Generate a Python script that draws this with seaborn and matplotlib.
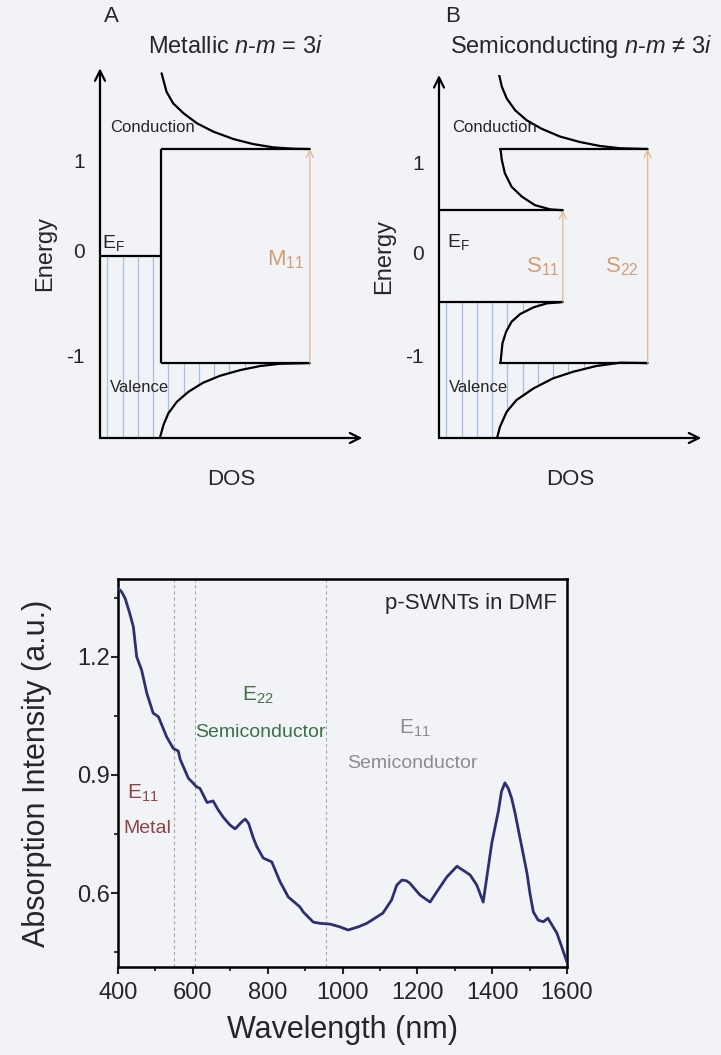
import numpy as np
import matplotlib
matplotlib.use("Agg")
import matplotlib.pyplot as plt
import seaborn as sns
import pandas as pd

# ---------------- data ----------------
# absorption spectrum (bottom panel)
wavelength_nm = [400, 410, 419, 430, 441, 450, 463, 477, 494, 508, 530, 548, 561, 566, 588,
                 610, 619, 638, 654, 668, 681, 699, 713, 731, 740, 749, 762, 771, 788, 811,
                 833, 855, 886, 895, 922, 940, 967, 993, 1015, 1042, 1065, 1108, 1131,
                 1145, 1159, 1171, 1180, 1207, 1234, 1252, 1279, 1306, 1341, 1359, 1376,
                 1399, 1417, 1425, 1434, 1443, 1452, 1461, 1493, 1501, 1510, 1523, 1537,
                 1549, 1573, 1586, 1600]
absorption = [1.375, 1.365, 1.349, 1.315, 1.277, 1.200, 1.167, 1.108, 1.057, 1.048, 0.997,
              0.967, 0.961, 0.940, 0.892, 0.870, 0.866, 0.830, 0.834, 0.811, 0.793, 0.773,
              0.763, 0.781, 0.788, 0.777, 0.739, 0.718, 0.689, 0.679, 0.629, 0.590, 0.565,
              0.552, 0.526, 0.523, 0.521, 0.514, 0.506, 0.514, 0.523, 0.549, 0.582, 0.620,
              0.633, 0.631, 0.625, 0.595, 0.577, 0.603, 0.641, 0.668, 0.646, 0.620, 0.577,
              0.727, 0.810, 0.858, 0.880, 0.866, 0.841, 0.804, 0.651, 0.599, 0.552, 0.531,
              0.527, 0.536, 0.498, 0.463, 0.424]
region_bounds_nm = [550, 605, 955]
x_ticks = [400, 600, 800, 1000, 1200, 1400, 1600]
y_ticks = [0.6, 0.9, 1.2]

# Panel A (metallic) schematic DOS curves: DOS (arb.), Energy
a_cond_dos = [1.01, 1.09, 1.20, 1.37, 1.59, 1.86, 2.19, 2.51, 2.84, 3.17, 3.44]
a_cond_energy = [1.878, 1.689, 1.569, 1.467, 1.364, 1.278, 1.202, 1.151, 1.117, 1.103, 1.10]
a_val_dos = [0.98, 1.04, 1.12, 1.26, 1.45, 1.69, 1.97, 2.30, 2.62, 2.95, 3.44]
a_val_energy = [-1.874, -1.737, -1.617, -1.498, -1.395, -1.302, -1.230, -1.172, -1.131, -1.107, -1.10]
a_vhs_level = 1.10
a_step_dos = 1.0
a_m11_dos = 3.44

# Panel B (semiconducting)
b_c2_dos = [0.98, 1.03, 1.11, 1.25, 1.44, 1.68, 1.98, 2.31, 2.64, 2.97, 3.42]
b_c2_energy = [1.878, 1.741, 1.620, 1.497, 1.394, 1.309, 1.229, 1.172, 1.131, 1.108, 1.10]
b_c1_dos = [1.00, 1.01, 1.03, 1.08, 1.19, 1.36, 1.57, 1.82, 2.03]
b_c1_energy = [1.10, 1.089, 0.986, 0.850, 0.712, 0.610, 0.524, 0.480, 0.47]
b_v1_dos = [1.00, 1.01, 1.04, 1.10, 1.19, 1.33, 1.55, 1.77, 1.98, 2.03]
b_v1_energy = [-1.10, -1.086, -0.897, -0.778, -0.675, -0.596, -0.527, -0.486, -0.476, -0.47]
b_v2_dos = [0.95, 1.00, 1.11, 1.27, 1.55, 1.87, 2.20, 2.58, 2.97, 3.42]
b_v2_energy = [-1.874, -1.754, -1.600, -1.480, -1.360, -1.257, -1.189, -1.130, -1.096, -1.10]
b_s11_level = 0.47
b_s22_level = 1.10
b_step_dos = 1.0
b_s11_dos = 2.03
b_s22_dos = 3.42

energy_ticks_labels = ["1", "0", "-1"]

# ---------------- style ----------------
sns.set_style("ticks")
BG = "#f2f3f7"
plt.rcParams["font.family"] = ["Liberation Sans", "DejaVu Sans"]
plt.rcParams["mathtext.fontset"] = "custom"
plt.rcParams["mathtext.rm"] = "Liberation Sans"
plt.rcParams["mathtext.it"] = "Liberation Sans:italic"
plt.rcParams["mathtext.bf"] = "Liberation Sans:bold"

W, H = 721, 1055
fig = plt.figure(figsize=(W / 100, H / 100), dpi=100, facecolor=BG)

HATCH = "#a3bfe0"
TAN = "#e2b892"
TANTXT = "#d19e74"
DOSU = 61.0     # px per DOS unit
EU = 97.3       # px per energy unit


def panel_axes(left_px, bottom_px, xmax, ymin, ymax):
    return fig.add_axes([left_px / W, (H - bottom_px) / H,
                         xmax * DOSU / W, (ymax - ymin) * EU / H])


def style_panel(ax, xmax, ymin, ymax, tickpos):
    ax.set_facecolor(BG)
    ax.set_xlim(0, xmax)
    ax.set_ylim(ymin, ymax)
    for s in ax.spines.values():
        s.set_visible(False)
    ax.set_xticks([])
    ax.set_yticks(tickpos)
    ax.set_yticklabels(energy_ticks_labels, fontsize=15)
    ax.tick_params(axis="y", length=0, pad=11)
    ax.set_ylabel("Energy", fontsize=17, labelpad=7)
    ax.set_xlabel("DOS", fontsize=16, labelpad=22)
    arrow = dict(arrowstyle="->", lw=1.6, color="black", shrinkA=0, shrinkB=0,
                 mutation_scale=18)
    ax.annotate("", xy=(0, ymax), xytext=(0, ymin), arrowprops=arrow, annotation_clip=False)
    ax.annotate("", xy=(xmax, ymin), xytext=(0, ymin), arrowprops=arrow, annotation_clip=False)


def transition_arrow(ax, x, y0, y1):
    ax.annotate("", xy=(x, y1), xytext=(x, y0),
                arrowprops=dict(arrowstyle="->", lw=0.9, color=TAN, shrinkA=0, shrinkB=0,
                                mutation_scale=13))


LW = 1.6
hatch_x = np.arange(0.12, 3.45, 0.25)

# ---------------- Panel A ----------------
axA = panel_axes(100, 438, 4.3, -1.87, 1.93)
style_panel(axA, 4.3, -1.87, 1.93, [0.98, 0.06, -1.02])
ymin = -1.87
for x in hatch_x:
    if x < a_step_dos:
        axA.vlines(x, ymin, 0.0, color=HATCH, lw=0.9, zorder=1)
    elif x < a_m11_dos:
        axA.vlines(x, np.interp(x, a_val_dos, a_val_energy), -a_vhs_level,
                   color=HATCH, lw=0.9, zorder=1)
transition_arrow(axA, a_m11_dos, -a_vhs_level, a_vhs_level)
axA.plot(a_cond_dos, a_cond_energy, color="black", lw=LW)
axA.plot(a_val_dos, a_val_energy, color="black", lw=LW)
axA.vlines(a_step_dos, -a_vhs_level, a_vhs_level, color="black", lw=LW)
axA.hlines([a_vhs_level, -a_vhs_level], a_step_dos, a_m11_dos, color="black", lw=LW)
axA.hlines(0.0, 0, a_step_dos, color="black", lw=LW)
axA.text(0.16, 1.32, "Conduction", fontsize=12, va="center", ha="left")
axA.text(0.16, -1.35, "Valence", fontsize=12, va="center", ha="left")
axA.text(0.03, 0.13, r"E$_{\mathrm{F}}$", fontsize=14, va="center", ha="left")
axA.text(2.74, -0.04, r"M$_{11}$", fontsize=16, va="center", ha="left", color=TANTXT)

fig.text(111 / W, 1 - 17 / H, "A", fontsize=16, ha="center", va="center")
fig.text(148 / W, 1 - 47 / H, r"Metallic $n$-$m$ = 3$i$", fontsize=17, ha="left", va="center")

# ---------------- Panel B ----------------
axB = panel_axes(439, 438, 4.3, -1.87, 1.86)
style_panel(axB, 4.3, -1.87, 1.86, [0.96, 0.04, -1.02])
for x in hatch_x:
    if x < b_step_dos:
        axB.vlines(x, ymin, -b_s11_level, color=HATCH, lw=0.9, zorder=1)
    else:
        if x < b_s11_dos:
            axB.vlines(x, np.interp(x, b_v1_dos, b_v1_energy), -b_s11_level,
                       color=HATCH, lw=0.9, zorder=1)
        if x < b_s22_dos:
            axB.vlines(x, np.interp(x, b_v2_dos, b_v2_energy), -b_s22_level,
                       color=HATCH, lw=0.9, zorder=1)
transition_arrow(axB, b_s11_dos, -b_s11_level, b_s11_level)
transition_arrow(axB, b_s22_dos, -b_s22_level, b_s22_level)
for xs, ys in [(b_c2_dos, b_c2_energy), (b_c1_dos, b_c1_energy),
               (b_v1_dos, b_v1_energy), (b_v2_dos, b_v2_energy)]:
    axB.plot(xs, ys, color="black", lw=LW)
axB.hlines(b_s22_level, b_step_dos, b_s22_dos, color="black", lw=LW)
axB.hlines(-b_s22_level, b_step_dos, b_s22_dos, color="black", lw=LW)
axB.hlines([b_s11_level, -b_s11_level], 0, b_s11_dos, color="black", lw=LW)
axB.text(0.21, 1.32, "Conduction", fontsize=12, va="center", ha="left")
axB.text(0.16, -1.35, "Valence", fontsize=12, va="center", ha="left")
axB.text(0.13, 0.14, r"E$_{\mathrm{F}}$", fontsize=14, va="center", ha="left")
axB.text(1.43, -0.11, r"S$_{11}$", fontsize=16, va="center", ha="left", color=TANTXT)
axB.text(2.72, -0.11, r"S$_{22}$", fontsize=16, va="center", ha="left", color=TANTXT)

fig.text(453 / W, 1 - 17 / H, "B", fontsize=16, ha="center", va="center")
fig.text(450 / W, 1 - 47 / H, r"Semiconducting $n$-$m$ ≠ 3$i$", fontsize=17,
         ha="left", va="center")

# ---------------- Bottom spectrum ----------------
axS = fig.add_axes([118 / W, (H - 967) / H, 449 / W, 388 / H])
axS.set_facecolor(BG)
spec = pd.DataFrame({"Wavelength (nm)": wavelength_nm, "Absorption": absorption})
for xb in region_bounds_nm:
    axS.axvline(xb, color="#a8a8a8", lw=0.8, ls=(0, (3, 2.5)), zorder=1)
sns.lineplot(data=spec, x="Wavelength (nm)", y="Absorption", ax=axS,
             color="#2c306e", lw=2.0, zorder=3, solid_joinstyle="round",
             solid_capstyle="round")
axS.set_xlim(400, 1600)
axS.set_ylim(0.412, 1.398)
axS.set_xticks(x_ticks)
axS.set_xticks(np.arange(500, 1600, 200), minor=True)
axS.set_yticks(y_ticks)
axS.set_yticks([0.45, 0.75, 1.05, 1.35], minor=True)
axS.set_yticklabels([f"{v:.1f}" for v in y_ticks])
axS.tick_params(axis="both", which="major", direction="out", length=5, width=1.5,
                labelsize=17, top=False, right=False)
axS.tick_params(axis="both", which="minor", direction="out", length=3, width=1.3,
                top=False, right=False)
axS.tick_params(axis="y", pad=1)
axS.tick_params(axis="x", pad=6)
for s in axS.spines.values():
    s.set_visible(True)
    s.set_linewidth(1.8)
    s.set_color("black")
axS.set_xlabel("Wavelength (nm)", fontsize=22, labelpad=8)
axS.set_ylabel("Absorption Intensity (a.u.)", fontsize=22, labelpad=18)

axS.text(1573, 1.337, "p-SWNTs in DMF", fontsize=16, ha="right", va="center")
GREEN = "#3d7048"
GREY = "#8c8c8c"
RED = "#8e4444"
axS.text(774, 1.103, r"E$_{22}$", fontsize=15, ha="center", va="center", color=GREEN)
axS.text(780, 1.009, "Semiconductor", fontsize=14, ha="center", va="center", color=GREEN)
axS.text(1194, 1.019, r"E$_{11}$", fontsize=15, ha="center", va="center", color=GREY)
axS.text(1188, 0.930, "Semiconductor", fontsize=14, ha="center", va="center", color=GREY)
axS.text(467, 0.854, r"E$_{11}$", fontsize=15, ha="center", va="center", color=RED)
axS.text(478, 0.765, "Metal", fontsize=14, ha="center", va="center", color=RED)

fig.savefig("out.png", dpi=100, facecolor=BG)
